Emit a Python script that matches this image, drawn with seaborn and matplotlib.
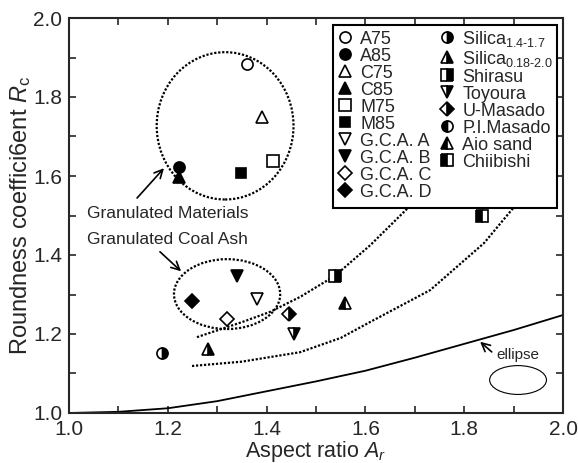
import numpy as np
import pandas as pd
import seaborn as sns
import matplotlib
matplotlib.use("Agg")
import matplotlib.pyplot as plt
from matplotlib.patches import Ellipse
from matplotlib.lines import Line2D
from matplotlib.ticker import MultipleLocator

# ---- measured particles -------------------------------------------------
materials = ["A75", "A85", "C75", "C85", "M75", "M85",
             "G.C.A. A", "G.C.A. B", "G.C.A. C", "G.C.A. D",
             "Silica$_{\\mathregular{1.4\\text{-}1.7}}$",
             "Silica$_{\\mathregular{0.18\\text{-}2.0}}$",
             "Shirasu", "Toyoura", "U-Masado", "P.I.Masado",
             "Aio sand", "Chiibishi"]
aspect_ratio = [1.360, 1.223, 1.390, 1.223, 1.413, 1.348,
                1.381, 1.340, 1.320, 1.249,
                1.189, 1.282, 1.538, 1.455, 1.445, np.nan,
                1.559, 1.836]
roundness = [1.884, 1.623, 1.749, 1.597, 1.638, 1.608,
             1.289, 1.347, 1.238, 1.284,
             1.152, 1.162, 1.347, 1.200, 1.251, np.nan,
             1.278, 1.499]

# ---- reference curves ---------------------------------------------------
ellipse_ar = [1.0, 1.1, 1.2, 1.3, 1.4, 1.5, 1.6, 1.7, 1.8, 1.9, 2.0]
ellipse_rc = [1.0, 1.003, 1.012, 1.030, 1.055, 1.080, 1.107, 1.140, 1.175, 1.210, 1.248]

upper_ar = [1.259, 1.35, 1.407, 1.468, 1.538, 1.61, 1.686, 1.72]
upper_rc = [1.192, 1.23, 1.256, 1.294, 1.347, 1.425, 1.519, 1.57]

lower_ar = [1.249, 1.35, 1.468, 1.55, 1.609, 1.731, 1.84, 1.90, 1.93]
lower_rc = [1.119, 1.130, 1.154, 1.19, 1.230, 1.311, 1.43, 1.52, 1.57]

# marker style per material: (marker, fill, size)
styles = {
    "A75": ("o", "none", 8), "A85": ("o", "full", 8),
    "C75": ("^", "none", 9), "C85": ("^", "full", 9),
    "M75": ("s", "none", 8), "M85": ("s", "full", 7.5),
    "G.C.A. A": ("v", "none", 9), "G.C.A. B": ("v", "full", 9),
    "G.C.A. C": ("D", "none", 7.5), "G.C.A. D": ("D", "full", 7.5),
}
half_styles = [("o", "right", 8), ("^", "right", 9), ("s", "right", 8),
               ("v", "right", 9), ("D", "right", 7.5), ("o", "left", 8),
               ("^", "left", 9), ("s", "left", 8)]

sns.set_style("ticks")
plt.rcParams["font.family"] = ["Liberation Sans", "DejaVu Sans"]
plt.rcParams["mathtext.fontset"] = "custom"
plt.rcParams["mathtext.rm"] = "Liberation Sans"
plt.rcParams["mathtext.it"] = "Liberation Sans:italic"

fig = plt.figure(figsize=(5.78, 4.63), dpi=100)
ax = fig.add_axes([69 / 578, 50 / 463, 494 / 578, 395 / 463])

# curves
sns.lineplot(x=ellipse_ar, y=ellipse_rc, ax=ax, color="black", lw=1.3,
             sort=False, estimator=None)
dotted = (0, (1, 0.8))
sns.lineplot(x=upper_ar, y=upper_rc, ax=ax, color="black", lw=1.6,
             linestyle=dotted, sort=False, estimator=None)
sns.lineplot(x=lower_ar, y=lower_rc, ax=ax, color="black", lw=1.6,
             linestyle=dotted, sort=False, estimator=None)

# group outlines
ax.add_patch(Ellipse((1.316, 1.727), 0.277, 0.373, fill=False, ec="black",
                     lw=1.6, ls=dotted))
ax.add_patch(Ellipse((1.320, 1.301), 0.215, 0.177, fill=False, ec="black",
                     lw=1.6, ls=dotted))
# small ellipse glyph
ax.add_patch(Ellipse((1.909, 1.0835), 0.115, 0.073, fill=False, ec="black", lw=0.8))

handles = []
half_iter = iter(half_styles)
for name, x, y in zip(materials, aspect_ratio, roundness):
    if name in styles:
        mk, fill, ms = styles[name]
        face = "white" if fill == "none" else "black"
        h, = ax.plot([x], [y], ls="none", marker=mk, ms=ms, mfc=face,
                     mec="black", mew=1.2, label=name, zorder=5)
    else:
        mk, side, ms = next(half_iter)
        h, = ax.plot([x], [y], ls="none", marker=mk, ms=ms, fillstyle=side,
                     mfc="black", mfcalt="white", mec="black", mew=1.2,
                     label=name, zorder=5)
    handles.append(h)

# pad the second legend column
blank = Line2D([], [], ls="none", marker="none")
leg_handles = handles + [blank, blank]
leg_labels = materials + ["", ""]
leg = ax.legend(leg_handles, leg_labels, ncol=2, loc="upper right",
                bbox_to_anchor=(0.988, 0.982), borderaxespad=0,
                fontsize=13, frameon=True, fancybox=False, framealpha=1,
                edgecolor="black", labelspacing=0.0, handlelength=0.9,
                handletextpad=0.4, columnspacing=0.4, borderpad=0.2)
leg.get_frame().set_linewidth(1.5)
leg.set_zorder(10)

# annotations
arrow = dict(arrowstyle="->,head_length=0.6,head_width=0.3", color="black", lw=1.2)
ax.annotate("", xy=(1.196, 1.625), xytext=(1.134, 1.539), arrowprops=arrow)
ax.text(1.036, 1.506, "Granulated Materials", fontsize=12.5, va="center", ha="left")
ax.annotate("", xy=(1.231, 1.354), xytext=(1.180, 1.413), arrowprops=arrow)
ax.text(1.036, 1.438, "Granulated Coal Ash", fontsize=12.5, va="center", ha="left")
ax.annotate("", xy=(1.828, 1.185), xytext=(1.860, 1.150), arrowprops=arrow)
ax.text(1.866, 1.147, "ellipse", fontsize=11, va="center", ha="left")

ax.set_xlim(1.0, 2.0)
ax.set_ylim(1.0, 2.0)
ax.xaxis.set_major_locator(MultipleLocator(0.2))
ax.xaxis.set_minor_locator(MultipleLocator(0.1))
ax.yaxis.set_major_locator(MultipleLocator(0.2))
ax.yaxis.set_minor_locator(MultipleLocator(0.1))
ax.tick_params(which="both", direction="in", top=True, right=True,
               length=5, width=1.2, labelsize=15)
ax.tick_params(axis="x", pad=5)
ax.tick_params(axis="y", pad=5)
for s in ax.spines.values():
    s.set_linewidth(1.5)
    s.set_visible(True)

ax.set_xlabel("Aspect ratio $\\mathit{A}_{\\mathit{r}}$", fontsize=15.5, labelpad=0)
ax.set_ylabel("Roundness coeffici6ent $\\mathit{R}_{\\mathregular{c}}$", fontsize=17,
              labelpad=0)

fig.savefig("out.png", dpi=100)
